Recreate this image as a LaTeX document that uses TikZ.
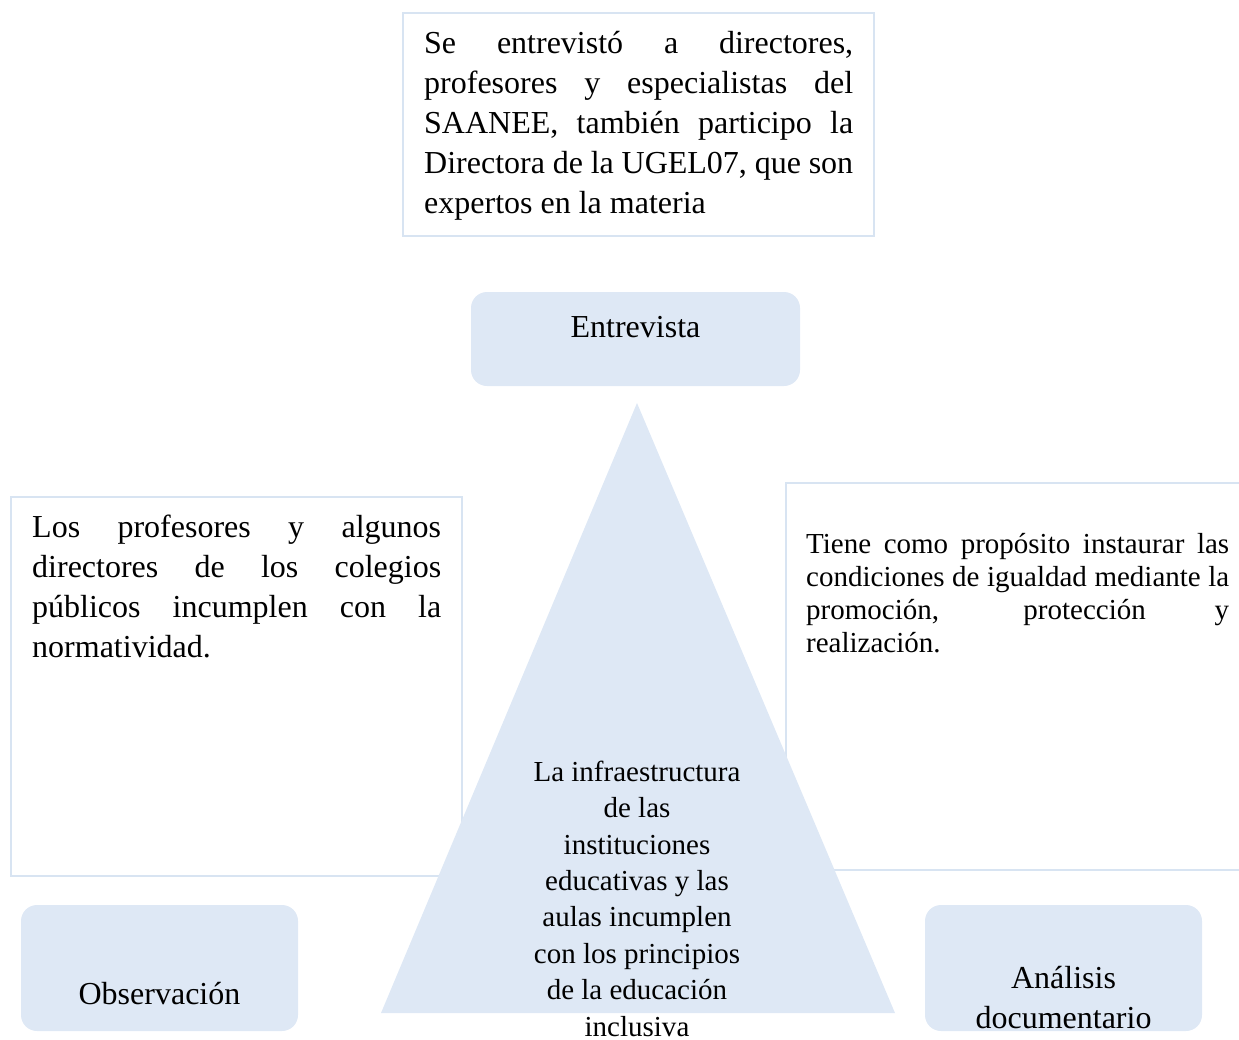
\documentclass[tikz,border=0pt]{standalone}
\usepackage{fontspec}
\setmainfont{Liberation Serif}
\definecolor{fillblue}{RGB}{222,232,245}
\definecolor{lineblue}{RGB}{216,228,242}
\begin{document}
\begin{tikzpicture}[x=1pt,y=-1pt,
  frame/.style={draw=lineblue, line width=2.5pt, fill=white, inner sep=0pt},
  pill/.style={fill=fillblue, rounded corners=16pt, inner sep=0pt},
  bigtxt/.style={inner sep=0pt, anchor=base west, align=left, font=\fontsize{32}{40}\selectfont},
  midtxt/.style={inner sep=0pt, font=\fontsize{29}{33}\selectfont},
  label/.style={inner sep=0pt, anchor=base, align=center, font=\fontsize{32}{40}\selectfont}]
\useasboundingbox (0,0) rectangle (1239,1039);
% frames
\node[frame, minimum width=471pt, minimum height=223pt] (topbox) at (638.5,124.5) {};
\node[frame, minimum width=451pt, minimum height=379pt] (leftbox) at (236.5,686.5) {};
\node[frame, minimum width=470pt, minimum height=387pt] (rightbox) at (1021,676.5) {};
% rounded boxes
\node[pill, minimum width=329pt, minimum height=94pt] (entrev) at (635.5,339) {};
\node[pill, minimum width=277pt, minimum height=126pt] (obs) at (159.5,968) {};
\node[pill, minimum width=277pt, minimum height=126pt] (anal) at (1063.5,968) {};
% triangle
\coordinate (apex) at (637,403);
\coordinate (bl) at (381,1013);
\coordinate (br) at (895,1013);
\fill[fillblue] (apex) -- (bl) -- (br) -- cycle;
% texts (base anchor = baseline of the last line)
\node[bigtxt] (toptext) at (424,213) {\makebox[429pt][s]{Se entrevistó a directores,}\\
\makebox[429pt][s]{profesores y especialistas del}\\
\makebox[429pt][s]{SAANEE, también participo la}\\
\makebox[429pt][s]{Directora de la UGEL07, que son}\\
expertos en la materia};
\node[bigtxt] (lefttext) at (32,657) {\makebox[409pt][s]{Los profesores y algunos}\\
\makebox[409pt][s]{directores de los colegios}\\
\makebox[409pt][s]{públicos incumplen con la}\\
normatividad.};
\node[midtxt, anchor=base west, align=left] (righttext) at (806,652) {\makebox[423pt][s]{Tiene como propósito instaurar las}\\
\makebox[423pt][s]{condiciones de igualdad mediante la}\\
\makebox[423pt][s]{promoción, protección y}\\
realización.};
\node[midtxt, anchor=base, align=center, font=\fontsize{29}{36.4}\selectfont] (tritext) at (637,1036) {La infraestructura\\ de las\\ instituciones\\ educativas y las\\ aulas incumplen\\ con los principios\\ de la educación\\ inclusiva};
\node[label] (entrevtext) at (635.5,337) {Entrevista};
\node[label] (obstext) at (159.5,1004) {Observación};
\node[label] (analtext) at (1063.5,1028) {Análisis\\ documentario};
\end{tikzpicture}
\end{document}
